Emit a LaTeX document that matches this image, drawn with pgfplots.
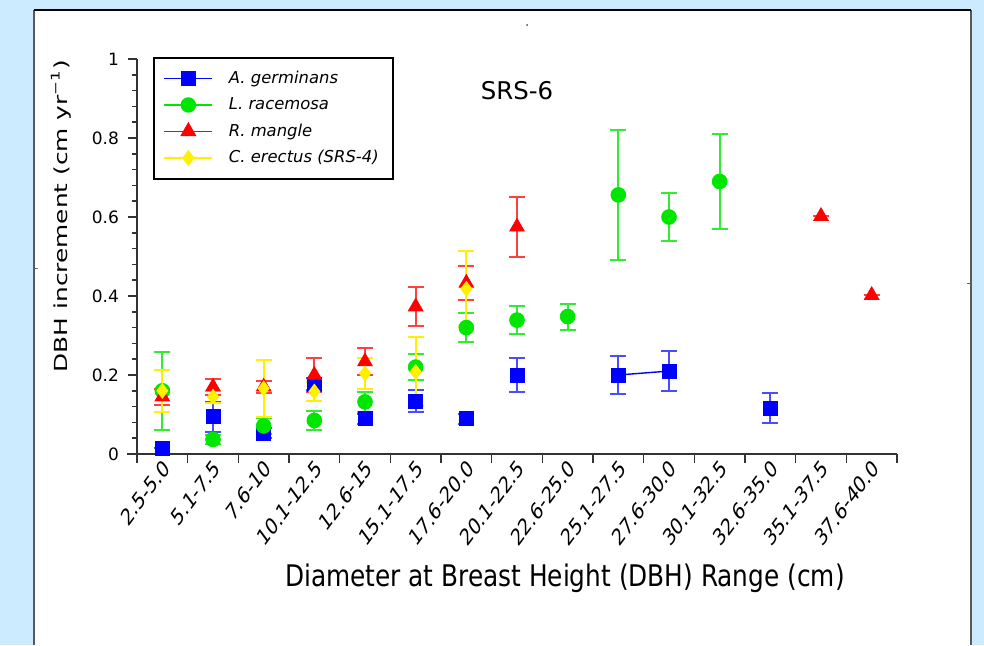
\documentclass[border=0pt]{standalone}
\usepackage{fontspec}
\setmainfont{DejaVu Sans}
\newfontfamily\dejavu{DejaVu Sans}
\usepackage{graphicx}
\usepackage{pgfplots}
\usepackage{pgfplotstable}
\pgfplotsset{compat=1.18}

\definecolor{bgblue}{RGB}{204,235,255}
\definecolor{mblue}{RGB}{0,0,255}
\definecolor{mgreen}{RGB}{0,230,0}
\definecolor{mred}{RGB}{255,0,0}
\definecolor{myellow}{RGB}{255,240,0}

\pgfplotstableread{
x y e
0 0.015 0
1 0.094 0.038
2 0.053 0.012
3 0.177 0.015
4 0.089 0.012
5 0.134 0.027
6 0.089 0.012
7 0.200 0.042
9 0.200 0.048
10 0.210 0.050
12 0.116 0.038
}\agerm

\pgfplotstableread{
x y e
0 0.160 0.098
1 0.037 0.012
2 0.071 0.020
3 0.085 0.023
4 0.132 0.025
5 0.220 0.032
6 0.320 0.037
7 0.339 0.036
8 0.348 0.033
9 0.656 0.165
10 0.600 0.060
11 0.690 0.120
}\lrace

\pgfplotstableread{
x y e
0 0.145 0.020
1 0.170 0.020
2 0.170 0.015
3 0.200 0.042
4 0.234 0.035
5 0.373 0.050
6 0.433 0.044
7 0.575 0.075
13 0.602 0
14 0.402 0
}\rmang

\pgfplotstableread{
x y e
0 0.160 0.053
1 0.145 0.015
2 0.166 0.072
3 0.158 0.025
4 0.204 0.040
5 0.208 0.087
6 0.418 0.095
}\cerec

\begin{document}
\begin{tikzpicture}
\fill[bgblue] (0,0) rectangle (492pt,322.5pt);
\fill[white] (17pt,0) rectangle (485.3pt,317.5pt);
\draw[black!65, line width=1pt] (17pt,0) -- (17pt,317.5pt);
\draw[black!65, line width=1pt] (485.3pt,0) -- (485.3pt,317.5pt);
\draw[black, line width=0.8pt] (17pt,317.5pt) -- (485.3pt,317.5pt);
\draw[black!60, line width=0.5pt] (17.5pt,188.5pt) -- (19pt,188.5pt);
\draw[black!60, line width=0.5pt] (483.5pt,181pt) -- (485pt,181pt);
\fill[black!70] (263.5pt,310pt) circle (0.5pt);
\begin{axis}[
  at={(68.5pt,95.5pt)}, anchor=south west,
  scale only axis, width=380pt, height=197.5pt,
  xmin=-0.5, xmax=14.5, ymin=0, ymax=1,
  clip=false,
  axis lines=left,
  axis line style={-, line width=0.8pt, black!80},
  x axis line style={shorten <=-5pt},
  tick align=outside,
  major tick length=4.5pt, minor tick length=2.5pt,
  tick style={line width=0.8pt, black!80},
  ytick={0,0.2,0.4,0.6,0.8,1},
  minor y tick num=4,
  yticklabel style={font=\dejavu\fontsize{8.5}{10}\selectfont, xshift=-1pt},
  /pgf/number format/assume math mode=true,
  xtick={-0.5,0.5,...,14.5},
  xticklabels={},
  extra x ticks={0,1,2,3,4,5,6,7,8,9,10,11,12,13,14},
  extra x tick labels={2.5-5.0,5.1-7.5,7.6-10,10.1-12.5,12.6-15,15.1-17.5,17.6-20.0,20.1-22.5,22.6-25.0,25.1-27.5,27.6-30.0,30.1-32.5,32.6-35.0,35.1-37.5,37.6-40.0},
  extra x tick style={major tick length=0pt, xticklabel style={font=\dejavu\fontsize{8.5}{10}\selectfont, yscale=1.35, rotate=45, anchor=east, inner sep=1pt, yshift=-4pt}},
  xlabel={\scalebox{1}[1.2]{Diameter at Breast Height (DBH) Range (cm)}},
  xlabel style={font=\dejavu\fontsize{12.4}{14}\selectfont, at={(rel axis cs:0.563,-0.314)}, anchor=center},
  ylabel={\scalebox{1.38}[1]{DBH increment (cm yr\textsuperscript{−1})}},
  ylabel style={font=\dejavu\fontsize{9}{11}\selectfont, at={(rel axis cs:-0.1,0.6025)}, anchor=center},
  legend style={at={(rel axis cs:0.021,1.005)}, anchor=north west, draw=black, line width=0.8pt,
    font=\dejavu\itshape\fontsize{8.2}{10}\selectfont, row sep=1.6pt, inner xsep=5pt, inner ysep=4.5pt,
    nodes={inner sep=2pt},
    /tikz/every odd column/.append style={column sep=6pt}},
  legend cell align=left,
  legend image code/.code={\draw[mark repeat=2,mark phase=2,#1] plot coordinates {(0cm,0cm) (0.42cm,0cm) (0.84cm,0cm)};},
]
\addlegendimage{mblue, line width=0.7pt, mark=square*, mark size=3.3pt, mark options={fill=mblue, draw=mblue}}
\addlegendentry{A. germinans}
\addlegendimage{mgreen, line width=0.7pt, mark=*, mark size=3.5pt, mark options={fill=mgreen, draw=mgreen}}
\addlegendentry{L. racemosa}
\addlegendimage{mred, line width=0.7pt, mark=triangle*, mark size=4pt, mark options={fill=mred, draw=mred}}
\addlegendentry{R. mangle}
\addlegendimage{myellow, line width=0.7pt, mark=diamond*, mark size=3.5pt, mark options={fill=myellow, draw=myellow}}
\addlegendentry{C. erectus (SRS-4)}

\addplot[mblue, line width=0.7pt, forget plot] coordinates {(9,0.200) (10,0.210)};

\addplot[only marks, forget plot, mark=square*, mark size=3.5pt, mark options={fill=mblue, draw=mblue},
  error bars/.cd, y dir=both, y explicit,
  error bar style={line width=1pt, mblue!70},
  error mark options={line width=1pt, mblue!70, mark size=4pt, rotate=90}]
  table[x=x, y=y, y error=e]{\agerm};

\addplot[only marks, forget plot, mark=*, mark size=3.7pt, mark options={fill=mgreen, draw=mgreen},
  error bars/.cd, y dir=both, y explicit,
  error bar style={line width=1pt, mgreen!80},
  error mark options={line width=1pt, mgreen!80, mark size=4pt, rotate=90}]
  table[x=x, y=y, y error=e]{\lrace};

\addplot[only marks, forget plot, mark=triangle*, mark size=4.2pt, mark options={fill=mred, draw=mred},
  error bars/.cd, y dir=both, y explicit,
  error bar style={line width=1pt, mred!75},
  error mark options={line width=1pt, mred!75, mark size=4pt, rotate=90}]
  table[x=x, y=y, y error=e]{\rmang};

\addplot[only marks, forget plot, mark=diamond*, mark size=3.7pt, mark options={fill=myellow, draw=myellow},
  error bars/.cd, y dir=both, y explicit,
  error bar style={line width=1pt, myellow},
  error mark options={line width=1pt, myellow, mark size=4pt, rotate=90}]
  table[x=x, y=y, y error=e]{\cerec};

\node[font=\dejavu\fontsize{12.2}{14}\selectfont] at (axis cs:7,0.92) {SRS-6};
\end{axis}
\pgfresetboundingbox
\useasboundingbox (0,0) rectangle (492pt,322.5pt);
\end{tikzpicture}
\end{document}
